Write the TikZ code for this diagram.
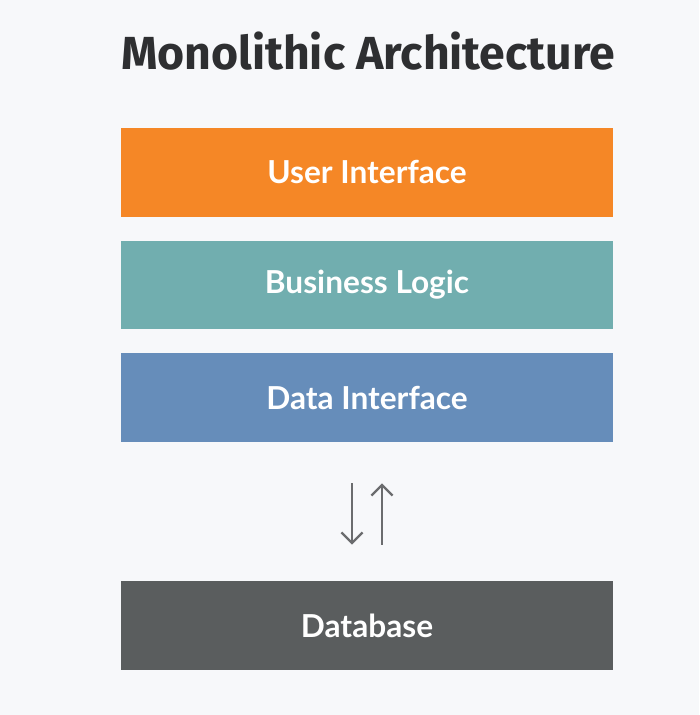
\documentclass[tikz,border=0pt]{standalone}
\usepackage{fontspec}
\setmainfont{Lato}
\newfontfamily\titlefont{Fira Sans}
\usetikzlibrary{arrows.meta}
\definecolor{bgcol}{HTML}{F7F8FA}
\definecolor{uicol}{HTML}{F58726}
\definecolor{blcol}{HTML}{71AEAF}
\definecolor{dicol}{HTML}{668DBA}
\definecolor{dbcol}{HTML}{5A5D5E}
\definecolor{titlecol}{HTML}{2E2F31}
\definecolor{arrowcol}{HTML}{6B6C6E}
\tikzset{
  layer/.style={minimum width=9.84cm, minimum height=1.78cm, inner sep=0pt,
    text=white, font=\fontsize{18}{21}\selectfont\bfseries},
  flow/.style={draw=arrowcol, line width=1.3pt, -{Straight Barb[length=6pt,width=12pt]}}
}
\begin{document}
\begin{tikzpicture}[x=0.02cm, y=-0.02cm]
        \fill[bgcol] (0,0) rectangle (699,715);
        \useasboundingbox (0,0) rectangle (699,715);
        \node[anchor=base, text=titlecol, font=\titlefont\fontsize{26.4}{31}\selectfont\bfseries] (title) at (368, 70) {Monolithic Architecture};
        \node[layer, fill=uicol] (ui) at (367, 172.5) {User Interface};
        \node[layer, fill=blcol] (bl) at (367, 285) {Business Logic};
        \node[layer, fill=dicol] (di) at (367, 397.5) {Data Interface};
        \node[layer, fill=dbcol] (db) at (367, 625.5) {Database};
        \draw[flow, shorten <=0.82cm, shorten >=0.72cm] ([xshift=-0.3cm]di.south) -- ([xshift=-0.3cm]db.north);
        \draw[flow, shorten <=0.72cm, shorten >=0.82cm] ([xshift=0.3cm]db.north) -- ([xshift=0.3cm]di.south);
\end{tikzpicture}
\end{document}
